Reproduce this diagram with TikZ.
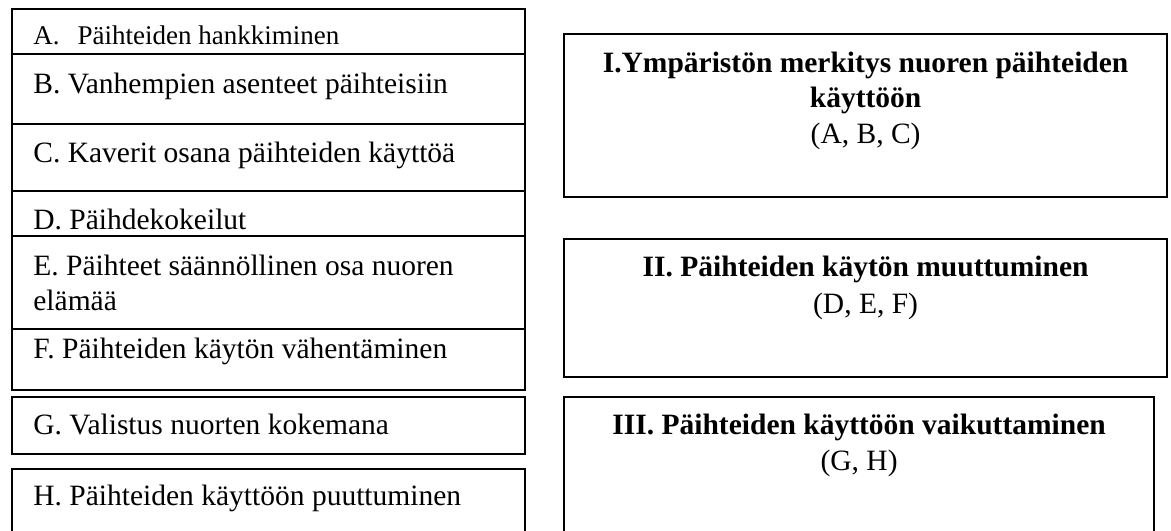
\documentclass[tikz,border=0pt]{standalone}
\usepackage{fontspec}
\setmainfont{Liberation Serif}
\usepackage{tikz}
\usetikzlibrary{calc}
\usepackage{xcolor}

\def\px{0.5pt}
\tikzset{
row/.style = {draw, line width=1.1pt, anchor=north west, inner sep=0pt, minimum width=513*\px, minimum height=#1*\px},
cat/.style = {draw, line width=1.1pt, anchor=north west, inner sep=0pt, minimum width=603*\px, minimum height=#1*\px},
txt/.style = {anchor=base west, inner sep=0pt, font=\fontsize{14.75}{17.5}\selectfont},
head/.style = {anchor=base, inner sep=0pt, font=\fontsize{14.75}{17.5}\selectfont\bfseries},
sub/.style = {anchor=base, inner sep=0pt, font=\fontsize{14.75}{17.5}\selectfont}
}

\begin{document}
\begin{tikzpicture}[x=0.5pt,y=-0.5pt]
\useasboundingbox (0,0) rectangle (1171,530);

\def\xl{11}
\def\xr{563}

\node (rA) at (\xl,8)   [row=45] {};
\node (rB) at (\xl,53)  [row=70] {};
\node (rC) at (\xl,123) [row=67] {};
\node (rD) at (\xl,190) [row=45] {};
\node (rE) at (\xl,235) [row=93] {};
\node (rF) at (\xl,328) [row=61] {};
\node (rG) at (\xl,396) [row=57] {};
\node (rH) at (\xl,468) [row=70] {};

% multi-line nodes sit on their last baseline
\node (tA) at ($(rA.north west)+(22,36)$) [txt, font=\fontsize{13.5}{16}\selectfont] {A.\hspace{9pt}Päihteiden hankkiminen};
\node (tB) at ($(rB.north west)+(22,40)$) [txt] {B. Vanhempien asenteet päihteisiin};
\node (tC) at ($(rC.north west)+(22,39)$) [txt] {C. Kaverit osana päihteiden käyttöä};
\node (tD) at ($(rD.north west)+(22,39)$) [txt] {D. Päihdekokeilut};
\node (tE) at ($(rE.north west)+(22,75)$) [txt, align=left] {E. Päihteet säännöllinen osa nuoren\\elämää};
\node (tF) at ($(rF.north west)+(22,30)$) [txt] {F. Päihteiden käytön vähentäminen};
\node (tG) at ($(rG.north west)+(22,38)$) [txt] {G. Valistus nuorten kokemana};
\node (tH) at ($(rH.north west)+(22,37)$) [txt] {H. Päihteiden käyttöön puuttuminen};

\node (cI)   at (\xr,33)  [cat=163] {};
\node (cII)  at (\xr,238) [cat=138] {};
\node (cIII) at (\xr,396) [cat=140, minimum width=590*\px] {};

\node (hI) at ($(cI.north)+(0,74)$) [head, align=center] {I.Ympäristön merkitys nuoren päihteiden\\käyttöön};
\node (sI) at ($(cI.north)+(0,110)$) [sub] {(A, B, C)};
\node (hII) at ($(cII.north)+(0,38)$) [head] {II. Päihteiden käytön muuttuminen};
\node (sII) at ($(cII.north)+(0,75)$) [sub] {(D, E, F)};
\node (hIII) at ($(cIII.north)+(0,38)$) [head] {III. Päihteiden käyttöön vaikuttaminen};
\node (sIII) at ($(cIII.north)+(0,74)$) [sub] {(G, H)};

%\draw[help lines,step=50] (0,0) grid (1171,530);
\end{tikzpicture}
\end{document}
